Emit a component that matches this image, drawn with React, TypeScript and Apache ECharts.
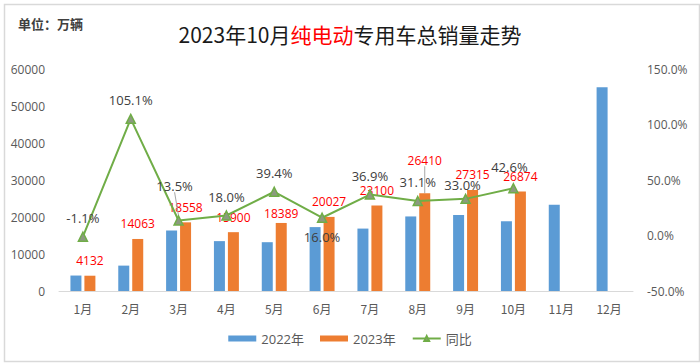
import React, { useEffect, useRef } from "react";
import * as echarts from "echarts";

const months = ["1月", "2月", "3月", "4月", "5月", "6月", "7月", "8月", "9月", "10月", "11月", "12月"];
const sales2022 = [4180, 6860, 16350, 13480, 13190, 17270, 16870, 20150, 20540, 18850, 23330, 55050];
const sales2023: (number | null)[] = [4132, 14063, 18558, 15900, 18389, 20027, 23100, 26410, 27315, 26874, null, null];
const yoy: (number | null)[] = [-1.1, 105.1, 13.5, 18.0, 39.4, 16.0, 36.9, 31.1, 33.0, 42.6, null, null];
const leftTicks = { min: 0, max: 60000, interval: 10000 };
const rightTicks = { min: -50, max: 150, interval: 50 };

const NUM_FONT = "'Open Sans', 'Noto Sans CJK SC', sans-serif";
const CJK_FONT = "'Noto Sans CJK SC', sans-serif";

export default function App() {
  const ref = useRef<HTMLDivElement>(null);
  useEffect(() => {
    if (!ref.current) return;
    const chart = echarts.init(ref.current, null, { renderer: "svg" });

    const barLabelMove: Record<number, number> = { 4: 6, 7: -18 };
    const lineLabelMove: Record<number, [number, number]> = { 2: [-4, -16], 8: [-3, 5], 9: [-4, -2] };
    const guide = { show: true, lineStyle: { color: "#a6a6a6", width: 1 } };
    const noGuide = { show: false };

    chart.setOption({
      animation: false,
      backgroundColor: "#ffffff",
      textStyle: { fontFamily: NUM_FONT },
      title: {
        text: "2023年10月{r|纯电动}专用车总销量走势",
        left: "center",
        top: 18,
        textStyle: {
          fontFamily: CJK_FONT,
          fontSize: 21,
          fontWeight: "normal",
          color: "#1a1a1a",
          rich: { r: { color: "#ff0000", fontSize: 21, fontFamily: CJK_FONT } },
        },
      },
      graphic: [
        {
          type: "rect",
          left: 2,
          top: 2,
          shape: { width: 695, height: 357 },
          style: { fill: "none", stroke: "#d9d9d9", lineWidth: 1.5 },
          silent: true,
        },
        {
          type: "text",
          left: 18,
          top: 17,
          style: { text: "单位：万辆", fontSize: 13, fontWeight: "bold", fill: "#404040", fontFamily: CJK_FONT },
        },
      ],
      legend: {
        bottom: 14,
        left: "center",
        itemWidth: 28,
        itemHeight: 6,
        itemGap: 16,
        textStyle: { fontSize: 13, color: "#595959", fontFamily: NUM_FONT },
        data: [
          { name: "2022年", icon: "rect" },
          { name: "2023年", icon: "rect" },
          { name: "同比" },
        ],
      },
      grid: { left: 59, right: 67, top: 69, bottom: 73 },
      xAxis: {
        type: "category",
        data: months,
        axisLine: { lineStyle: { color: "#d9d9d9", width: 1 } },
        axisTick: { show: false },
        axisLabel: { color: "#595959", fontSize: 12, margin: 11, fontFamily: CJK_FONT },
      },
      yAxis: [
        {
          type: "value",
          ...leftTicks,
          splitLine: { show: false },
          axisLine: { show: false },
          axisTick: { show: false },
          axisLabel: { color: "#595959", fontSize: 12, margin: 14, formatter: (v: number) => String(v) },
        },
        {
          type: "value",
          ...rightTicks,
          splitLine: { show: false },
          axisLine: { show: false },
          axisTick: { show: false },
          axisLabel: {
            color: "#595959",
            fontSize: 12,
            margin: 14,
            formatter: (v: number) => `${v.toFixed(1)}%`,
          },
        },
      ],
      series: [
        {
          name: "2022年",
          type: "bar",
          data: sales2022,
          barWidth: 11,
          barGap: "27%",
          itemStyle: { color: "#5B9BD5" },
        },
        {
          name: "2023年",
          type: "bar",
          barWidth: 11,
          data: sales2023.map((v, i) => ({ value: v, labelLine: i === 7 ? guide : noGuide })),
          itemStyle: { color: "#ED7D31" },
          label: {
            show: true,
            position: "top",
            distance: 9,
            color: "#ff0000",
            fontSize: 12,
          },
          labelLine: guide,
          labelLayout: (p: any) => (barLabelMove[p.dataIndex] !== undefined ? { dy: barLabelMove[p.dataIndex] } : {}),
          z: 3,
        },
        {
          name: "同比",
          type: "line",
          yAxisIndex: 1,
          data: yoy.map((v, i) =>
            i === 5
              ? { value: v, label: { position: "bottom", distance: 7 }, labelLine: noGuide }
              : { value: v, labelLine: i === 2 ? guide : noGuide }
          ),
          symbol: "triangle",
          symbolSize: 9,
          lineStyle: { color: "#70AD47", width: 2 },
          itemStyle: { color: "#8c9a80", borderColor: "#70AD47", borderWidth: 1.5 },
          label: {
            show: true,
            position: "top",
            distance: 7,
            color: "#404040",
            fontSize: 13,
            formatter: (p: any) => `${Number(p.value).toFixed(1)}%`,
          },
          labelLine: guide,
          labelLayout: (p: any) => {
            const m = lineLabelMove[p.dataIndex];
            return m ? { dx: m[0], dy: m[1] } : {};
          },
          z: 4,
        },
      ],
    });
    return () => chart.dispose();
  }, []);
  return <div ref={ref} style={{ position: "fixed", left: 0, top: 0, width: 700, height: 364 }} />;
}
